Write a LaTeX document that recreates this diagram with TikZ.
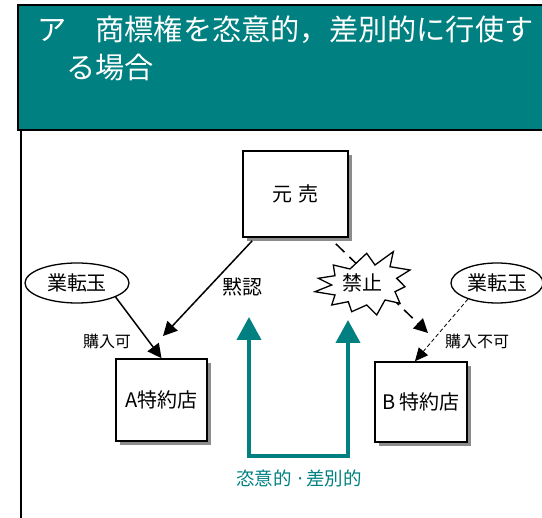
\documentclass[tikz,border=0pt]{standalone}
\usepackage{fontspec}
\setmainfont{Noto Sans CJK JP}
\usetikzlibrary{shapes.geometric,arrows.meta,calc,shadows}
\definecolor{tealc}{RGB}{0,128,128}
\begin{document}
\begin{tikzpicture}[x=1pt,y=-1pt,
  box/.style={draw=black,line width=1.6pt,fill=white,inner sep=0pt,
    drop shadow={shadow xshift=4pt,shadow yshift=-4pt,fill=black!45,opacity=1}},
  ell/.style={draw=black,line width=1.3pt,ellipse,fill=white,inner sep=0pt},
  lbl/.style={font=\fontsize{16}{18}\selectfont,inner sep=0pt},
  blbl/.style={font=\fontsize{20}{22}\selectfont},
  conn/.style={line width=1.5pt,-{Triangle[length=14pt,width=14pt]}},
  burst/.style={draw=black,fill=white,line width=1.3pt,line join=miter},
  tealarrow/.style={draw=tealc,line width=4pt,{Triangle[length=23pt,width=24pt]}-{Triangle[length=23pt,width=24pt]}}
]
\useasboundingbox (0,0) rectangle (542,518);
% header
\fill[tealc] (18,5) rectangle (560,130);
\draw[line width=1.5pt] (560,5) -- (18,5) -- (18,130) -- (560,130);
\draw[line width=2pt] (20.5,130) -- (20.5,520);
\node[anchor=base west,text=white,inner sep=0pt,font=\fontsize{29.2}{30}\selectfont] (t1) at (37,41) {ア　商標権を恣意的，差別的に行使す};
\node[anchor=base west,text=white,inner sep=0pt,font=\fontsize{29.2}{30}\selectfont] (t2) at (66,79) {る場合};
% boxes
\node[box,minimum width=105pt,minimum height=86pt,blbl] (M) at (295.5,194) {元\,\,売};
\node[box,minimum width=91pt,minimum height=82pt,blbl] (A) at (161.5,400) {A特約店};
\node[box,minimum width=92pt,minimum height=80pt,blbl] (B) at (421,402) {B\,特約店};
% ellipses
\node[ell,minimum width=104pt,minimum height=40pt,blbl] (E1) at (77,283) {業転玉};
\node[ell,minimum width=92pt,minimum height=40pt,blbl] (E2) at (497,283) {業転玉};
% connectors
\coordinate (Mk) at (163,336);
\draw[conn] ($(M.south west)+(10,3)$) -- (Mk);
\node[blbl] (mokunin) at (242,287) {黙認};
\draw[conn] (E1.-20) -- (A.north);
\node[lbl] (l1) at (107,341) {購入可};
\coordinate (Bk) at (428,333);
\draw[conn,dash pattern=on 12pt off 7pt] ($(M.south east)+(-13,6)$) -- (Bk);
% burst
\coordinate (banc) at (362,283);
\begin{scope}[shift={(banc)}]
\draw[burst] (-43.7,-4.7) -- (-27,-7.3) -- (-28.7,-18) -- (-12,-14) -- (4.7,-29.7) -- (13,-18)
  -- (31.3,-31.3) -- (28,-16.3) -- (48,-13) -- (34.7,-4.7) -- (43,3.7) -- (33,8.7)
  -- (38,20.3) -- (23,17) -- (14.7,32) -- (4.7,22) -- (-10.3,28.7) -- (-13.7,18.7)
  -- (-30.3,22) -- (-27,12) -- (-47,8.7) -- (-30.3,2) -- cycle;
\end{scope}
\node[blbl,inner sep=0pt] (ban) at (banc) {禁止};
\draw[line width=0.8pt,dash pattern=on 4pt off 2.5pt,-{Triangle[length=13pt,width=12pt]}] (E2.209) -- ($(B.north)+(-6,0)$);
\node[lbl] (l2) at (477,341) {購入不可};
% teal arrows
\coordinate (tL) at (249,317);
\coordinate (tR) at (348,320);
\coordinate (bs) at (300,456);
\draw[tealarrow] (tL) -- (tL |- bs) -- (tR |- bs) -- (tR);
\node[text=tealc,font=\fontsize{18.5}{20}\selectfont] (sabetsu) at (299,478) {恣意的 ·差別的};
\end{tikzpicture}
\end{document}
